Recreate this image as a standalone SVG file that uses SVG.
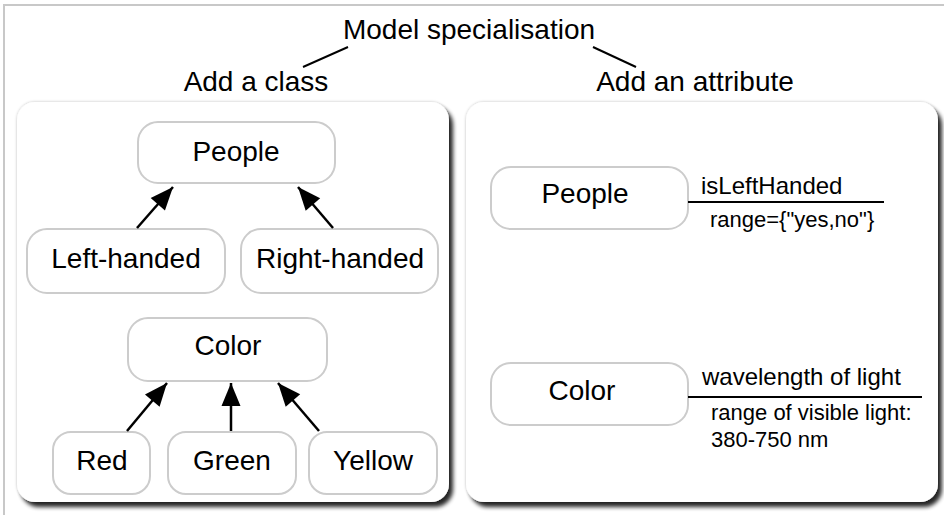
<svg xmlns="http://www.w3.org/2000/svg" width="944" height="515" viewBox="0 0 944 515">
<defs>
<filter id="sh" x="-5%" y="-5%" width="112%" height="112%">
<feGaussianBlur in="SourceAlpha" stdDeviation="2.2" result="b"/>
<feOffset in="b" dx="4" dy="5" result="o"/>
<feComponentTransfer in="o" result="o2"><feFuncA type="linear" slope="0.85"/></feComponentTransfer>
<feGaussianBlur in="SourceAlpha" stdDeviation="1.5" result="h"/>
<feComponentTransfer in="h" result="h2"><feFuncA type="linear" slope="0.25"/></feComponentTransfer>
<feMerge><feMergeNode in="h2"/><feMergeNode in="o2"/><feMergeNode in="SourceGraphic"/></feMerge>
</filter>
<marker id="ah" viewBox="-24 -10 26 20" refX="0" refY="0" markerWidth="26" markerHeight="20" markerUnits="userSpaceOnUse" orient="auto">
<path d="M0,0 L-23,-9.5 L-23,9.5 Z" fill="#000"/>
</marker>
<style>
text{font-family:"Liberation Sans",Arial,sans-serif;fill:#000}
.t{font-size:28px;text-anchor:middle}
.s{font-size:24px}
.r{font-size:22px}
.node{fill:#fff;stroke:#cccccc;stroke-width:2}
.panel{fill:#fff;filter:url(#sh)}
.con line{stroke:#000;stroke-width:2.5}
.lk{stroke:#000;stroke-width:2}
</style>
</defs>
<rect width="944" height="515" fill="#fff"/>
<path d="M4,515 V5 H944" fill="none" stroke="#c8c8c8" stroke-width="2"/>

<g id="title">
<text class="t" x="469" y="39">Model specialisation</text>
<line class="lk" x1="348" y1="47" x2="303" y2="67"/>
<line class="lk" x1="593" y1="47" x2="636" y2="67"/>
<text class="t" x="256" y="91">Add a class</text>
<text class="t" x="695" y="91">Add an attribute</text>
</g>

<g id="panel-left"><rect class="panel" x="17" y="102" width="432" height="400" rx="18"/></g>
<g id="panel-right"><rect class="panel" x="466" y="102" width="472" height="400" rx="18"/></g>

<g id="n-people"><rect class="node" x="138" y="122" width="197" height="61" rx="20"/><text class="t" x="236" y="161">People</text></g>
<g id="n-left"><rect class="node" x="27" y="229" width="198" height="64" rx="20"/><text class="t" x="126" y="268">Left-handed</text></g>
<g id="n-right"><rect class="node" x="241" y="229" width="197" height="64" rx="20"/><text class="t" x="340" y="268">Right-handed</text></g>
<g id="n-color"><rect class="node" x="128" y="318" width="199" height="63" rx="20"/><text class="t" x="228" y="355">Color</text></g>
<g id="n-red"><rect class="node" x="53" y="432" width="97" height="62" rx="18"/><text class="t" x="102" y="470">Red</text></g>
<g id="n-green"><rect class="node" x="168" y="432" width="128" height="62" rx="18"/><text class="t" x="232" y="470">Green</text></g>
<g id="n-yellow"><rect class="node" x="309" y="432" width="128" height="62" rx="18"/><text class="t" x="373" y="470">Yellow</text></g>

<g id="n-people2"><rect class="node" x="491" y="167" width="197" height="62" rx="20"/><text class="t" x="585" y="203">People</text></g>
<g id="n-color2"><rect class="node" x="491" y="363" width="197" height="62" rx="20"/><text class="t" x="582" y="400">Color</text></g>

<g id="attr-people">
<line class="lk" x1="688" y1="202" x2="884" y2="202"/>
<text class="s" x="701" y="194">isLeftHanded</text>
<text class="r" x="710" y="227">range={"yes,no"}</text>
</g>
<g id="attr-color">
<line class="lk" x1="688" y1="397" x2="922" y2="397"/>
<text class="s" x="702" y="385">wavelength of light</text>
<text class="r" x="711" y="420">range of visible light:</text>
<text class="r" x="711" y="447">380-750 nm</text>
</g>

<g id="connectors" class="con">
<line x1="137" y1="228" x2="173" y2="187" marker-end="url(#ah)"/>
<line x1="333" y1="228" x2="298" y2="187" marker-end="url(#ah)"/>
<line x1="127" y1="431" x2="167" y2="383" marker-end="url(#ah)"/>
<line x1="231" y1="431" x2="231" y2="383" marker-end="url(#ah)"/>
<line x1="319" y1="431" x2="278" y2="383" marker-end="url(#ah)"/>
</g>
</svg>
